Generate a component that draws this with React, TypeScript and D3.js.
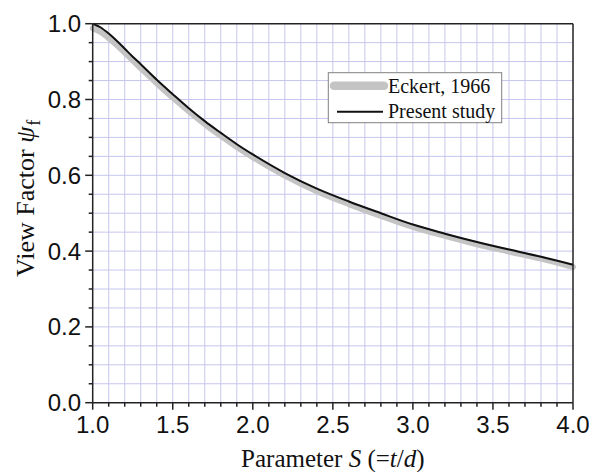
import React from "react";
import * as d3 from "d3";

const sValues = [1.0, 1.05, 1.1, 1.15, 1.2, 1.25, 1.3, 1.4, 1.5, 1.6, 1.7, 1.8, 1.9, 2.0, 2.2, 2.4, 2.6, 2.8, 3.0, 3.2, 3.4, 3.6, 3.8, 4.0];
const presentStudy = [1.0, 0.990, 0.974, 0.955, 0.934, 0.913, 0.893, 0.852, 0.814, 0.777, 0.743, 0.712, 0.682, 0.655, 0.606, 0.565, 0.531, 0.500, 0.470, 0.446, 0.424, 0.404, 0.385, 0.364];
const eckert1966 = [0.988, 0.978, 0.962, 0.944, 0.924, 0.903, 0.883, 0.843, 0.805, 0.769, 0.735, 0.704, 0.675, 0.648, 0.599, 0.558, 0.524, 0.493, 0.464, 0.440, 0.418, 0.399, 0.380, 0.358];
const xTickLabels = ["1.0", "1.5", "2.0", "2.5", "3.0", "3.5", "4.0"];
const yTickLabels = ["0.0", "0.2", "0.4", "0.6", "0.8", "1.0"];
const legendLabels = ["Eckert, 1966", "Present study"];

const W = 611;
const H = 472;
const L = 92.7, R = 573, T = 23.7, B = 402.7;

export default function App() {
  const x = d3.scaleLinear().domain([1, 4]).range([L, R]);
  const y = d3.scaleLinear().domain([0, 1]).range([B, T]);

  const xMinor = d3.range(0, 31).map((i) => 1 + i * 0.1);
  const yMinor = d3.range(0, 21).map((i) => i * 0.05);

  const line = d3
    .line<number>()
    .x((_, i) => x(sValues[i]))
    .y((d) => y(d))
    .curve(d3.curveMonotoneX);

  const grid = "#c6c6ee";
  const serif = "'Liberation Serif', 'Times New Roman', serif";
  const sans = "'Liberation Sans', Arial, sans-serif";

  return (
    <svg width={W} height={H} style={{ position: "absolute", left: 0, top: 0, background: "#fff" }}>
      {/* grid */}
      {xMinor.slice(1, -1).map((v, i) => (
        <line key={"gx" + i} x1={x(v)} x2={x(v)} y1={T} y2={B} stroke={grid} strokeWidth={1} />
      ))}
      {yMinor.slice(1, -1).map((v, i) => (
        <line key={"gy" + i} x1={L} x2={R} y1={y(v)} y2={y(v)} stroke={grid} strokeWidth={1} />
      ))}

      {/* curves */}
      <path d={line(eckert1966) || ""} fill="none" stroke="#c4c4c4" strokeWidth={6} strokeLinecap="round" />
      <path d={line(presentStudy) || ""} fill="none" stroke="#111" strokeWidth={2} />

      {/* frame */}
      <line x1={L} x2={R} y1={T} y2={T} stroke="#222" strokeWidth={1.5} />
      <line x1={R} x2={R} y1={T} y2={B} stroke="#222" strokeWidth={1.5} />
      <line x1={L} x2={R} y1={B} y2={B} stroke="#222" strokeWidth={1.5} />
      <line x1={L} x2={L} y1={T} y2={B} stroke="#222" strokeWidth={1.5} />

      {/* x ticks */}
      {xMinor.map((v, i) => (
        <line key={"xt" + i} x1={x(v)} x2={x(v)} y1={B} y2={B + (i % 5 === 0 ? 7 : 4)} stroke="#222" strokeWidth={1.5} />
      ))}
      {xTickLabels.map((t, i) => (
        <text key={"xl" + i} x={x(+t)} y={433} textAnchor="middle" fontFamily={sans} fontSize={24} fill="#111">
          {t}
        </text>
      ))}

      {/* y ticks */}
      {yMinor.map((v, i) => (
        <line key={"yt" + i} x1={L} x2={L - (i % 4 === 0 ? 7.5 : 4)} y1={y(v)} y2={y(v)} stroke="#222" strokeWidth={1.5} />
      ))}
      {yTickLabels.map((t, i) => (
        <text key={"yl" + i} x={81} y={y(+t) + 8.5} textAnchor="end" fontFamily={sans} fontSize={24} fill="#111">
          {t}
        </text>
      ))}

      {/* axis titles */}
      <text x={(L + R) / 2} y={467} textAnchor="middle" fontFamily={serif} fontSize={25} fill="#111">
        Parameter <tspan fontStyle="italic">S</tspan> (=<tspan fontStyle="italic">t</tspan>/<tspan fontStyle="italic">d</tspan>)
      </text>
      <text transform="translate(33.5,277) rotate(-90)" textAnchor="start" fontFamily={serif} fontSize={26} fill="#111">
        View Factor <tspan fontStyle="italic">ψ</tspan>
        <tspan fontSize={18} dy={6} dx={1}>f</tspan>
      </text>

      {/* legend */}
      <rect x={328.3} y={72.7} width={173.4} height={50} fill="#fff" stroke="#808080" strokeWidth={1} />
      <line x1={334} x2={384} y1={85.7} y2={85.7} stroke="#c4c4c4" strokeWidth={8.5} strokeLinecap="round" />
      <line x1={337} x2={383} y1={111.7} y2={111.7} stroke="#111" strokeWidth={2} />
      <text x={388} y={93} fontFamily={serif} fontSize={20} fill="#111">{legendLabels[0]}</text>
      <text x={388} y={118} fontFamily={serif} fontSize={20} fill="#111">{legendLabels[1]}</text>
    </svg>
  );
}
